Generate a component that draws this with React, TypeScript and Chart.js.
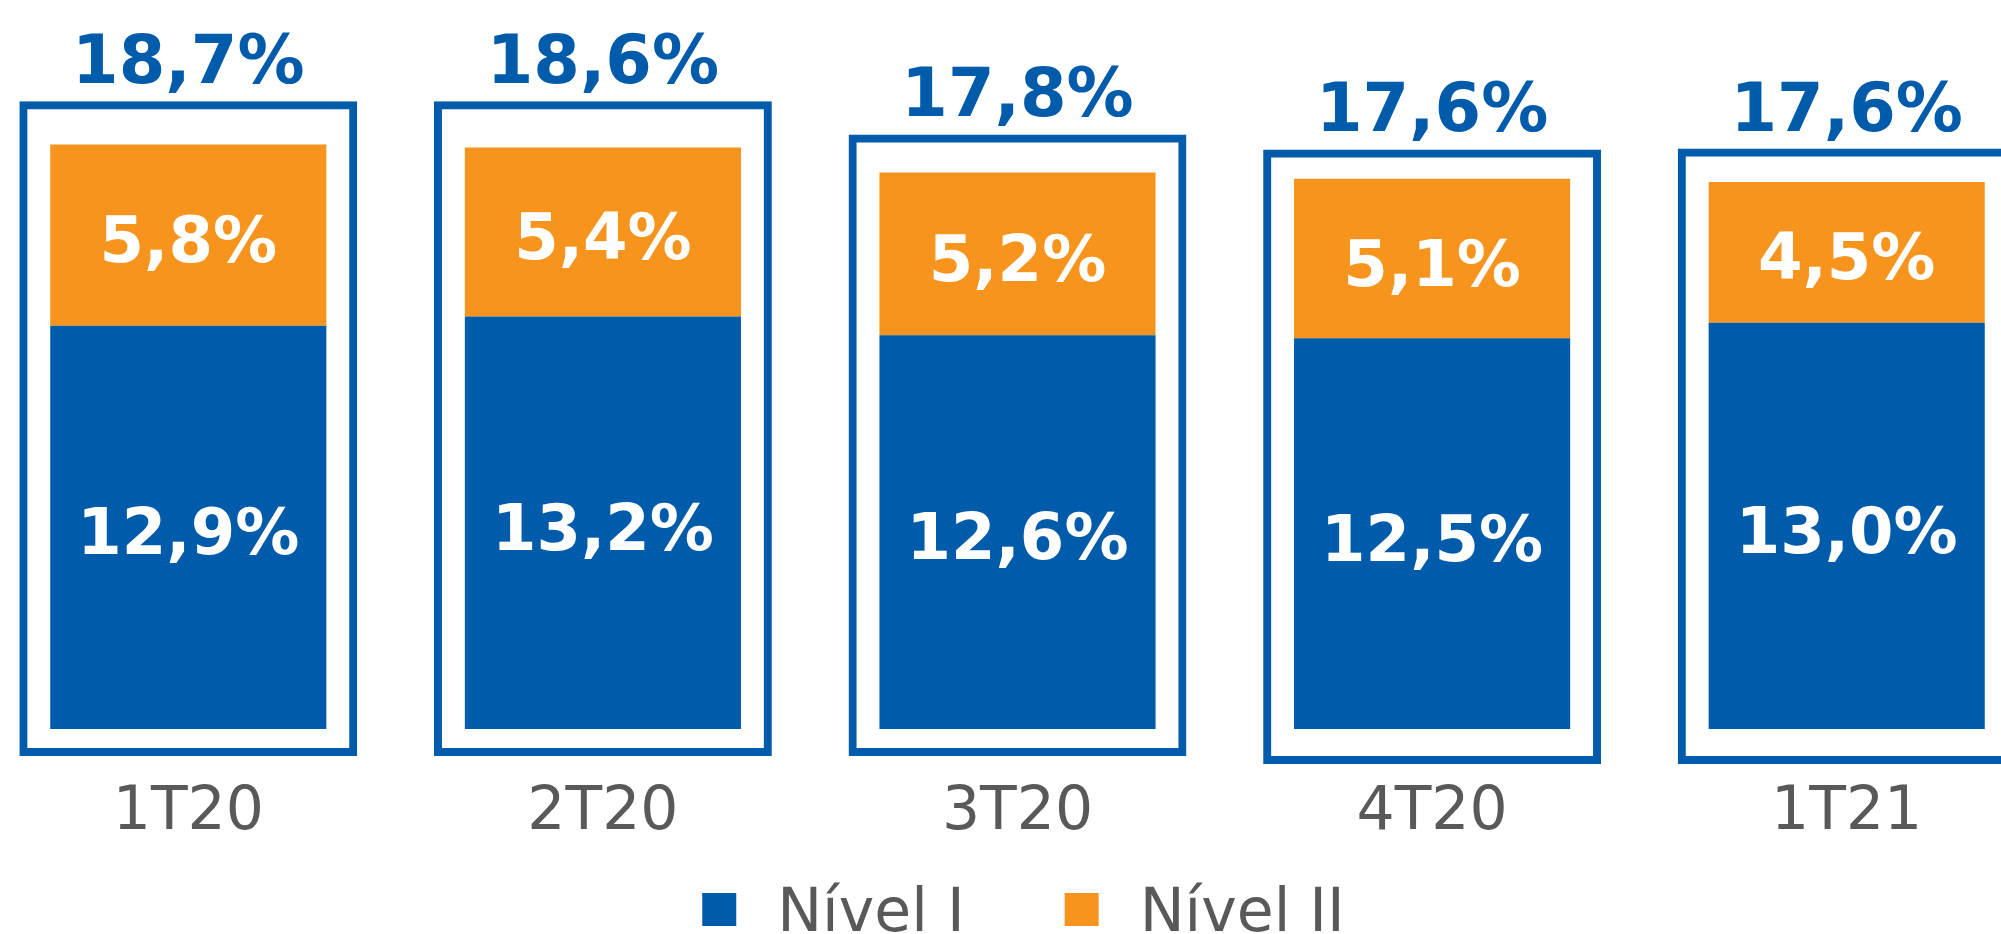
import React, { useEffect, useRef } from 'react';
import { Chart, registerables } from 'chart.js';

Chart.register(...registerables);

const categories = ['1T20', '2T20', '3T20', '4T20', '1T21'];
const nivel1 = [12.9, 13.2, 12.6, 12.5, 13.0];
const nivel2 = [5.8, 5.4, 5.2, 5.1, 4.5];
const totals = [18.7, 18.6, 17.8, 17.6, 17.6];
const boxLow = [-0.86, -0.86, -0.86, -1.12, -1.12];
const boxHigh = [20.08, 20.08, 19.02, 18.54, 18.57];
const seriesNames = ['Nível I', 'Nível II'];

const BLUE = '#005BAA';
const ORANGE = '#F7941D';
const GRAY = '#595959';
const FONT = '"DejaVu Sans", Verdana, sans-serif';

const fmt = (v: number) => v.toFixed(1).replace('.', ',') + '%';

const labelPlugin = {
  id: 'customLabels',
  afterDatasetsDraw(chart: any) {
    const ctx = chart.ctx as CanvasRenderingContext2D;
    ctx.save();
    ctx.textAlign = 'center';
    ctx.textBaseline = 'alphabetic';
    // inner segment labels
    ctx.fillStyle = '#ffffff';
    ctx.font = `bold 64px ${FONT}`;
    [0, 1].forEach((di) => {
      const meta = chart.getDatasetMeta(di);
      const vals = chart.data.datasets[di].data as number[];
      meta.data.forEach((el: any, i: number) => {
        const { x, y, base } = el.getProps(['x', 'y', 'base'], true);
        const c = (y + base) / 2;
        ctx.fillText(fmt(vals[i]), x, c + 27);
      });
    });
    // totals above boxes
    const boxMeta = chart.getDatasetMeta(2);
    ctx.fillStyle = BLUE;
    ctx.font = `bold 67px ${FONT}`;
    boxMeta.data.forEach((el: any, i: number) => {
      const { x, y, base } = el.getProps(['x', 'y', 'base'], true);
      ctx.fillText(fmt(totals[i]), x, Math.min(y, base) - 18);
    });
    // legend
    ctx.font = `60px ${FONT}`;
    ctx.textAlign = 'left';
    const items = [
      { t: seriesNames[0], c: BLUE },
      { t: seriesNames[1], c: ORANGE },
    ];
    const box = 34;
    const gap1 = 41;
    const gap2 = 100;
    const widths = items.map((it) => ctx.measureText(it.t).width);
    const total = box * 2 + gap1 * 2 + gap2 + widths[0] + widths[1];
    let x = chart.width / 2 + 6 - total / 2;
    const boxTop = chart.height - 41;
    const baseline = chart.height - 3;
    items.forEach((it, i) => {
      ctx.fillStyle = it.c;
      ctx.fillRect(x, boxTop, box, 33);
      x += box + gap1;
      ctx.fillStyle = GRAY;
      ctx.fillText(it.t, x, baseline);
      x += widths[i] + gap2;
    });
    ctx.restore();
  },
};

export default function App() {
  const ref = useRef<HTMLCanvasElement>(null);
  useEffect(() => {
    const chart = new Chart(ref.current as HTMLCanvasElement, {
      type: 'bar',
      data: {
        labels: categories,
        datasets: [
          {
            label: seriesNames[0],
            data: nivel1,
            backgroundColor: BLUE,
            borderWidth: 0,
            stack: 'main',
            categoryPercentage: 1,
            barPercentage: 0.666,
          },
          {
            label: seriesNames[1],
            data: nivel2,
            backgroundColor: ORANGE,
            borderWidth: 0,
            stack: 'main',
            categoryPercentage: 1,
            barPercentage: 0.666,
          },
          {
            label: 'box',
            data: boxLow.map((lo, i) => [lo, boxHigh[i]]) as any,
            backgroundColor: 'rgba(0,0,0,0)',
            borderColor: BLUE,
            borderWidth: 8,
            borderSkipped: false,
            inflateAmount: 0,
            stack: 'box',
            grouped: false,
            categoryPercentage: 1,
            barPercentage: 0.815,
          } as any,
        ],
      },
      options: {
        animation: false,
        responsive: true,
        maintainAspectRatio: false,
        events: [],
        layout: { padding: { top: 10, bottom: 0, left: 0, right: 0 } },
        plugins: {
          legend: { display: false },
          tooltip: { enabled: false },
          title: { display: false },
        },
        scales: {
          x: {
            stacked: true,
            grid: { display: false, drawTicks: false },
            border: { display: false },
            ticks: {
              color: GRAY,
              padding: 1,
              font: { family: FONT, size: 60 },
            },
            afterFit: (scale: any) => {
              scale.height = 158;
            },
          },
          y: {
            stacked: true,
            display: false,
            min: -1.5,
            max: 23,
          },
        },
      },
      plugins: [labelPlugin],
    });
    return () => chart.destroy();
  }, []);
  return (
    <div
      style={{
        position: 'fixed',
        left: 0,
        top: 0,
        width: 2001,
        height: 934,
        overflow: 'hidden',
        background: '#ffffff',
      }}
    >
      <div style={{ position: 'absolute', left: -19, top: 0, width: 2073, height: 934 }}>
        <canvas ref={ref} />
      </div>
    </div>
  );
}
